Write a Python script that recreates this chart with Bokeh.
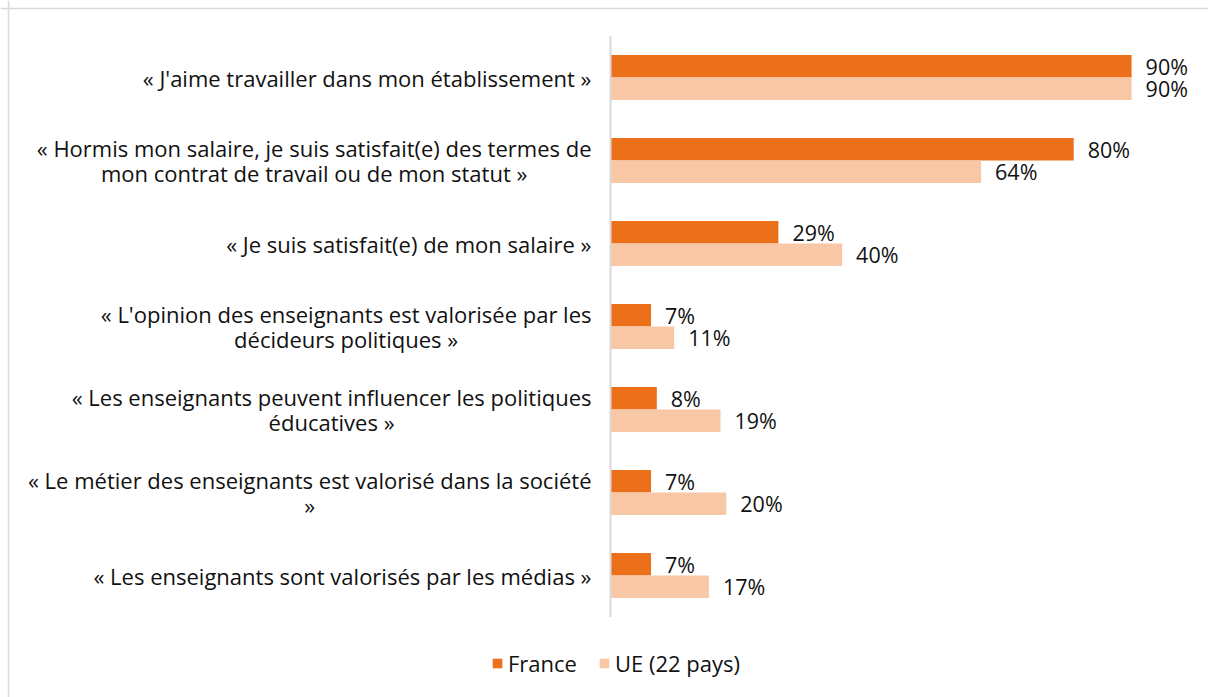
from bokeh.plotting import figure
from bokeh.models import Range1d, Span, Legend
from bokeh.core.properties import value
from bokeh.embed import file_html
from bokeh.resources import INLINE

categories = [
    "« J'aime travailler dans mon établissement »",
    "« Hormis mon salaire, je suis satisfait(e) des termes de\nmon contrat de travail ou de mon statut »",
    "« Je suis satisfait(e) de mon salaire »",
    "« L'opinion des enseignants est valorisée par les\ndécideurs politiques »",
    "« Les enseignants peuvent influencer les politiques\néducatives »",
    "« Le métier des enseignants est valorisé dans la société\n»",
    "« Les enseignants sont valorisés par les médias »",
]
france = [90, 80, 29, 7, 8, 7, 7]
ue = [90, 64, 40, 11, 19, 20, 17]
series_names = ["France", "UE (22 pays)"]
colors = ["#EC701A", "#F7C7A6"]

W, H = 1208, 697
FONT = "Open Sans"
TEXT_COLOR = "#111111"

# pixel geometry
axis_px = 610          # x position of value 0 on canvas
px_per_unit = 5.79     # pixels per percentage point
first_center_px = 77   # canvas y of first category centre
cat_px = 83            # pixels per category
border_px = 8

x_range = Range1d(-axis_px / px_per_unit, (W - axis_px) / px_per_unit)
y_range = Range1d((H - first_center_px) / cat_px, -first_center_px / cat_px)

p = figure(width=W, height=H, x_range=x_range, y_range=y_range,
           output_backend="svg", toolbar_location=None,
           min_border=0, outline_line_color=None)
p.axis.visible = False
p.grid.visible = False

idx = list(range(len(categories)))
off = 0.135
bh = 0.27
y_fr = [i - off for i in idx]
y_ue = [i + off for i in idx]

r1 = p.hbar(y=y_fr, left=0, right=france, height=bh, color=colors[0], line_color=None)
r2 = p.hbar(y=y_ue, left=0, right=ue, height=bh, color=colors[1], line_color=None)

# vertical axis line
p.segment(x0=[0], x1=[0], y0=[-0.5], y1=[len(categories) - 0.5],
          line_color="#d9d9d9", line_width=2)

# value labels
for xs, ys in ((france, y_fr), (ue, y_ue)):
    p.text(x=xs, y=ys, text=[f"{v}%" for v in xs], x_offset=14,
           text_align="left", text_baseline="middle", text_font=value(FONT),
           text_font_size="21.5px", text_color=TEXT_COLOR)

# category labels
p.text(x=[0] * len(categories), y=idx, text=categories, x_offset=-19,
       anchor="center_right", text_align="center", text_baseline="middle",
       text_font=value(FONT), text_font_size="22px", text_color=TEXT_COLOR,
       text_line_height=0.84)

# outer border (top and left)
p.add_layout(Span(location=(border_px - axis_px) / px_per_unit, dimension="height",
                  line_color="#d9d9d9", line_width=1.5))
p.add_layout(Span(location=(border_px - first_center_px) / cat_px, dimension="width",
                  line_color="#d9d9d9", line_width=1.5))

legend = Legend(items=[(series_names[0], [r1]), (series_names[1], [r2])],
                orientation="horizontal", location=(491, 19),
                glyph_width=12, glyph_height=12, label_standoff=5, spacing=21,
                padding=0, margin=0, border_line_color=None, background_fill_alpha=0,
                label_text_font=FONT, label_text_font_size="22px",
                label_text_color=TEXT_COLOR)
p.add_layout(legend)

open("out.html", "w").write(file_html(p, INLINE))
